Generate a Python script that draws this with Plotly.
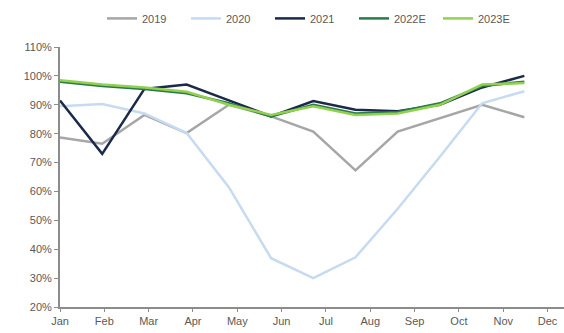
import plotly.graph_objects as go

months = ["Jan", "Feb", "Mar", "Apr", "May", "Jun", "Jul", "Aug", "Sep", "Oct", "Nov", "Dec"]
s2019 = [78.7, 76.5, 86.5, 80.2, 90.0, 86.0, 80.7, 67.3, 80.7, 85.3, 90.0, 85.7]
s2020 = [89.5, 90.3, 87.0, 80.2, 61.5, 36.9, 30.0, 37.2, 54.0, 72.0, 90.5, 94.7]
s2021 = [91.5, 73.0, 95.5, 97.0, 91.5, 86.0, 91.3, 88.3, 87.8, 90.0, 96.0, 100.0]
s2022E = [98.0, 96.5, 95.5, 94.0, 90.5, 86.0, 90.0, 87.0, 87.5, 90.5, 96.5, 98.0]
s2023E = [98.5, 97.0, 96.0, 94.5, 90.0, 86.5, 89.5, 86.5, 87.0, 90.0, 97.0, 97.5]
y_ticks = [20, 30, 40, 50, 60, 70, 80, 90, 100, 110]

series = [
    ("2019", s2019, "#a6a6a6"),
    ("2020", s2020, "#c6dbf0"),
    ("2021", s2021, "#1b2a4a"),
    ("2022E", s2022E, "#2a7a4b"),
    ("2023E", s2023E, "#92d050"),
]

# data points sit slightly tighter than month ticks (ticks spaced 1.05 data units)
xs = list(range(len(months)))
tick_step = 1.05
tickvals = [i * tick_step for i in range(len(months))]

fig = go.Figure()
for name, vals, col in series:
    fig.add_trace(go.Scatter(x=xs, y=vals, name=name, mode="lines",
                             line=dict(color=col, width=2.5)))

fig.update_layout(
    width=564, height=333,
    margin=dict(l=60, r=0, t=47, b=26),
    paper_bgcolor="white", plot_bgcolor="white",
    font=dict(family="Liberation Sans, Arial, sans-serif", size=11, color="#595959"),
    showlegend=True,
    legend=dict(orientation="h", x=0.5, xanchor="center", y=1.11, yanchor="middle",
                font=dict(size=11, color="#595959"), itemwidth=30, tracegroupgap=0,
                entrywidth=39, entrywidthmode="pixels"),
    xaxis=dict(range=[0, 11.94], tickmode="array", tickvals=tickvals, ticktext=months,
               showgrid=False, zeroline=False, showline=True, linecolor="#8c8c8c",
               linewidth=2, ticks="outside", ticklen=3, tickcolor="#8c8c8c"),
    yaxis=dict(range=[20, 110], tickmode="array", tickvals=y_ticks,
               ticktext=[f"{v}%" for v in y_ticks],
               showgrid=False, zeroline=False, showline=True, linecolor="#8c8c8c",
               linewidth=2, ticks="outside", ticklen=4, tickcolor="#8c8c8c"),
)

fig.write_html("out.html")
